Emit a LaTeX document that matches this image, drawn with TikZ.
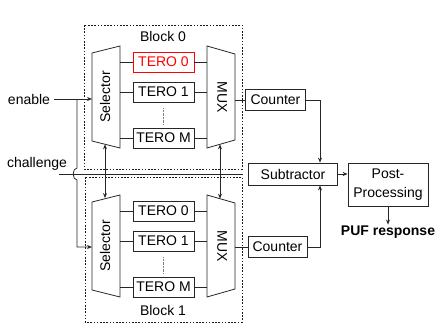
\documentclass[tikz,border=0pt]{standalone}
\usepackage{fontspec}
\setmainfont{Liberation Sans}
\usetikzlibrary{arrows.meta}

\begin{document}
\begin{tikzpicture}[x=1pt,y=-1pt,>={Stealth[length=5pt,width=4pt]},
    font=\fontsize{14}{19}\selectfont,
    wire/.style={draw=black!85,line width=0.8pt},
    terobox/.style={draw=black!85,line width=0.8pt,minimum width=61pt,minimum height=20pt,inner sep=0pt},
    unitbox/.style={draw=black!85,line width=0.8pt,minimum height=21pt,inner sep=0pt},
    blockline/.style={draw=black!90,line width=0.8pt,dash pattern=on 1.6pt off 1.6pt}]
    \useasboundingbox (0,0) rectangle (437,325);

    % blocks
    \draw[blockline] (84,25) rectangle (242,169);
    \draw[blockline] (85,177) rectangle (242,322);
    \node (lblock0) at (163,36.5) {Block 0};
    \node (lblock1) at (163,310.5) {Block 1};

    % block 0
    \draw[wire] (92,53) -- (120,46) -- (120,148) -- (92,141) -- cycle;
    \node[rotate=90] (sel0) at (105,97) {Selector};
    \draw[wire] (207,46) -- (235,54) -- (235,140) -- (207,148) -- cycle;
    \node[rotate=-90] (mux0) at (222,97) {MUX};
    \coordinate (sel0r) at (120,97);
    \coordinate (mux0l) at (207,97);
    \coordinate (mux0r) at (235,97);
    \node[terobox,draw=red,text=red] (t00) at (163.5,62) {TERO 0};
    \node[terobox] (t01) at (163.5,92) {TERO 1};
    \node[terobox] (t0m) at (163.5,138) {TERO M};
    \draw[gray,line width=0.6pt,dash pattern=on 0.6pt off 0.8pt] (t01.south) ++(0,6) -- ++(0,16);
    \foreach \t in {t00,t01,t0m} {
        \draw[wire] (\t.west) -- (\t.west -| sel0r);
        \draw[wire] (\t.east) -- (\t.east -| mux0l);
    }

    % block 1
    \draw[wire] (92,202) -- (120,195) -- (120,297) -- (92,290) -- cycle;
    \node[rotate=90] (sel1) at (105,246) {Selector};
    \draw[wire] (207,195) -- (235,203) -- (235,289) -- (207,297) -- cycle;
    \node[rotate=-90] (mux1) at (222,246) {MUX};
    \coordinate (sel1r) at (120,246);
    \coordinate (mux1l) at (207,246);
    \coordinate (mux1r) at (235,246);
    \node[terobox] (t10) at (163.5,211) {TERO 0};
    \node[terobox] (t11) at (163.5,241) {TERO 1};
    \node[terobox] (t1m) at (163.5,287) {TERO M};
    \draw[gray,line width=0.6pt,dash pattern=on 0.6pt off 0.8pt] (t11.south) ++(0,6) -- ++(0,16);
    \foreach \t in {t10,t11,t1m} {
        \draw[wire] (\t.west) -- (\t.west -| sel1r);
        \draw[wire] (\t.east) -- (\t.east -| mux1l);
    }

    % links between blocks
    \coordinate (sel0b) at (105,144.3);
    \coordinate (sel1t) at (105,198.1);
    \coordinate (mux0b) at (220,144.3);
    \coordinate (mux1t) at (220,198.7);
    \draw[wire,<->] (sel0b) -- (sel1t);
    \draw[wire,<->] (mux0b) -- (mux1t);

    % inputs
    \node (en) at (29,99) {enable};
    \node (ch) at (37,164) {challenge};
    \coordinate (enbr) at (77,99);
    \coordinate (sel0l) at (92,99);
    \coordinate (sel1l) at (92,247);
    \coordinate (chin) at (59,174);
    \coordinate (chout) at (243,174);
    \draw[wire,->] (en.east) -- (sel0l);
    \draw[wire,->] (enbr) -- (77,168) .. controls (72,168) and (72,180) .. (77,180)
        -- (77,247) -- (sel1l);
    \draw[wire] (chin) -- (chout);

    % counters and output
    \node[unitbox,minimum width=60pt] (cnt0) at (275.5,100) {Counter};
    \node[unitbox,minimum width=59pt] (cnt1) at (277.5,247) {Counter};
    \node[unitbox,minimum width=89pt,minimum height=22pt] (sub) at (293,174) {Subtractor};
    \node[unitbox,minimum width=80pt,minimum height=43pt,align=center] (post) at (388,184.5) {Post-\\Processing};
    \node[font=\fontsize{14}{16}\selectfont\bfseries,inner sep=1pt] (puf) at (388,232) {PUF response};
    \draw[wire] (mux0r |- cnt0.west) -- (cnt0.west);
    \draw[wire] (mux1r |- cnt1.west) -- (cnt1.west);
    \coordinate (cnt0turn) at (320,100);
    \coordinate (cnt1turn) at (320,247);
    \draw[wire,->] (cnt0.east) -- (cnt0turn) -- (cnt0turn |- sub.north);
    \draw[wire,->] (cnt1.east) -- (cnt1turn) -- (cnt1turn |- sub.south);
    \draw[wire,->] (sub.east) -- (sub.east -| post.west);
    \draw[wire,->] (post.south) -- (puf.north);
\end{tikzpicture}
\end{document}
